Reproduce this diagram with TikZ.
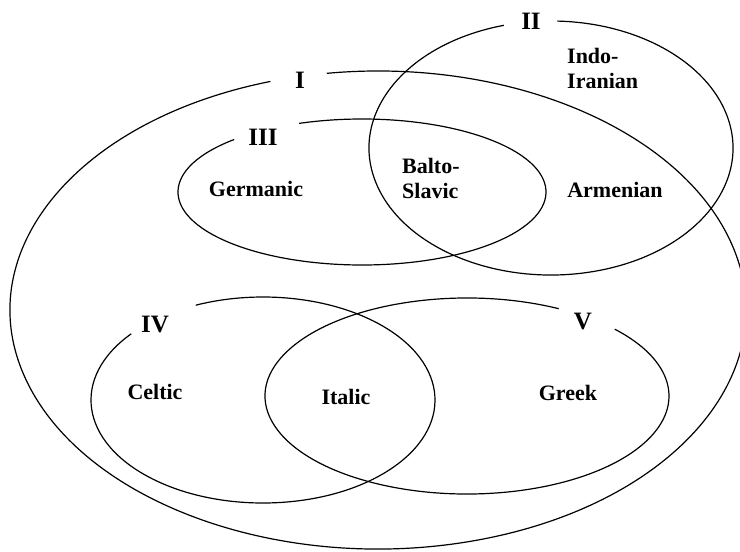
\documentclass[tikz,border=0pt]{standalone}
\usepackage{fontspec}
\setmainfont{Liberation Serif}
\usepackage{tikz}

\begin{document}
\begin{tikzpicture}[
  x=1pt, y=1pt,
  ring/.style={draw, line width=1.2pt},
  num/.style={font=\fontsize{25}{25}\selectfont\bfseries, inner sep=0pt},
  lang/.style={font=\fontsize{22}{25}\selectfont\bfseries, align=left, inner sep=0pt}
]
\useasboundingbox (0,0) rectangle (740,-552);

% centres of the groups
\coordinate (cI) at (378,-310);
\coordinate (cII) at (551,-148);
\coordinate (cIII) at (362,-192);
\coordinate (cIV) at (263,-400);
\coordinate (cV) at (467,-396);

% group outlines, open where the numeral sits
\draw[ring] (cI) ++(107:368 and 239) arc[start angle=107, end angle=458, x radius=368, y radius=239];
\draw[ring] (cII) ++(105:182 and 127) arc[start angle=105, end angle=448, x radius=182, y radius=127];
\draw[ring] (cIII) ++(134:184 and 73) arc[start angle=134, end angle=470, x radius=184, y radius=73];
\draw[ring] (cIV) ++(140:172 and 103) arc[start angle=140, end angle=473, x radius=172, y radius=103];
\draw[ring] (cV) ++(63:202 and 98) arc[start angle=63, end angle=403, x radius=202, y radius=98];

% numerals
\node[num] (nI) at (300,-80) {I};
\node[num] (nII) at (531,-21) {II};
\node[num] (nIII) at (263,-137) {III};
\node[num] (nIV) at (155,-324) {IV};
\node[num] (nV) at (583,-322) {V};

% languages
\node[lang, anchor=west] (indo) at (567,-68) {Indo-\\Iranian};
\node[lang] (germ) at (256,-189) {Germanic};
\node[lang, anchor=west] (balto) at (402,-178) {Balto-\\Slavic};
\node[lang] (arm) at (615,-190) {Armenian};
\node[lang] (celt) at (155,-392) {Celtic};
\node[lang] (ital) at (346,-397) {Italic};
\node[lang] (greek) at (568,-393) {Greek};
\end{tikzpicture}
\end{document}
